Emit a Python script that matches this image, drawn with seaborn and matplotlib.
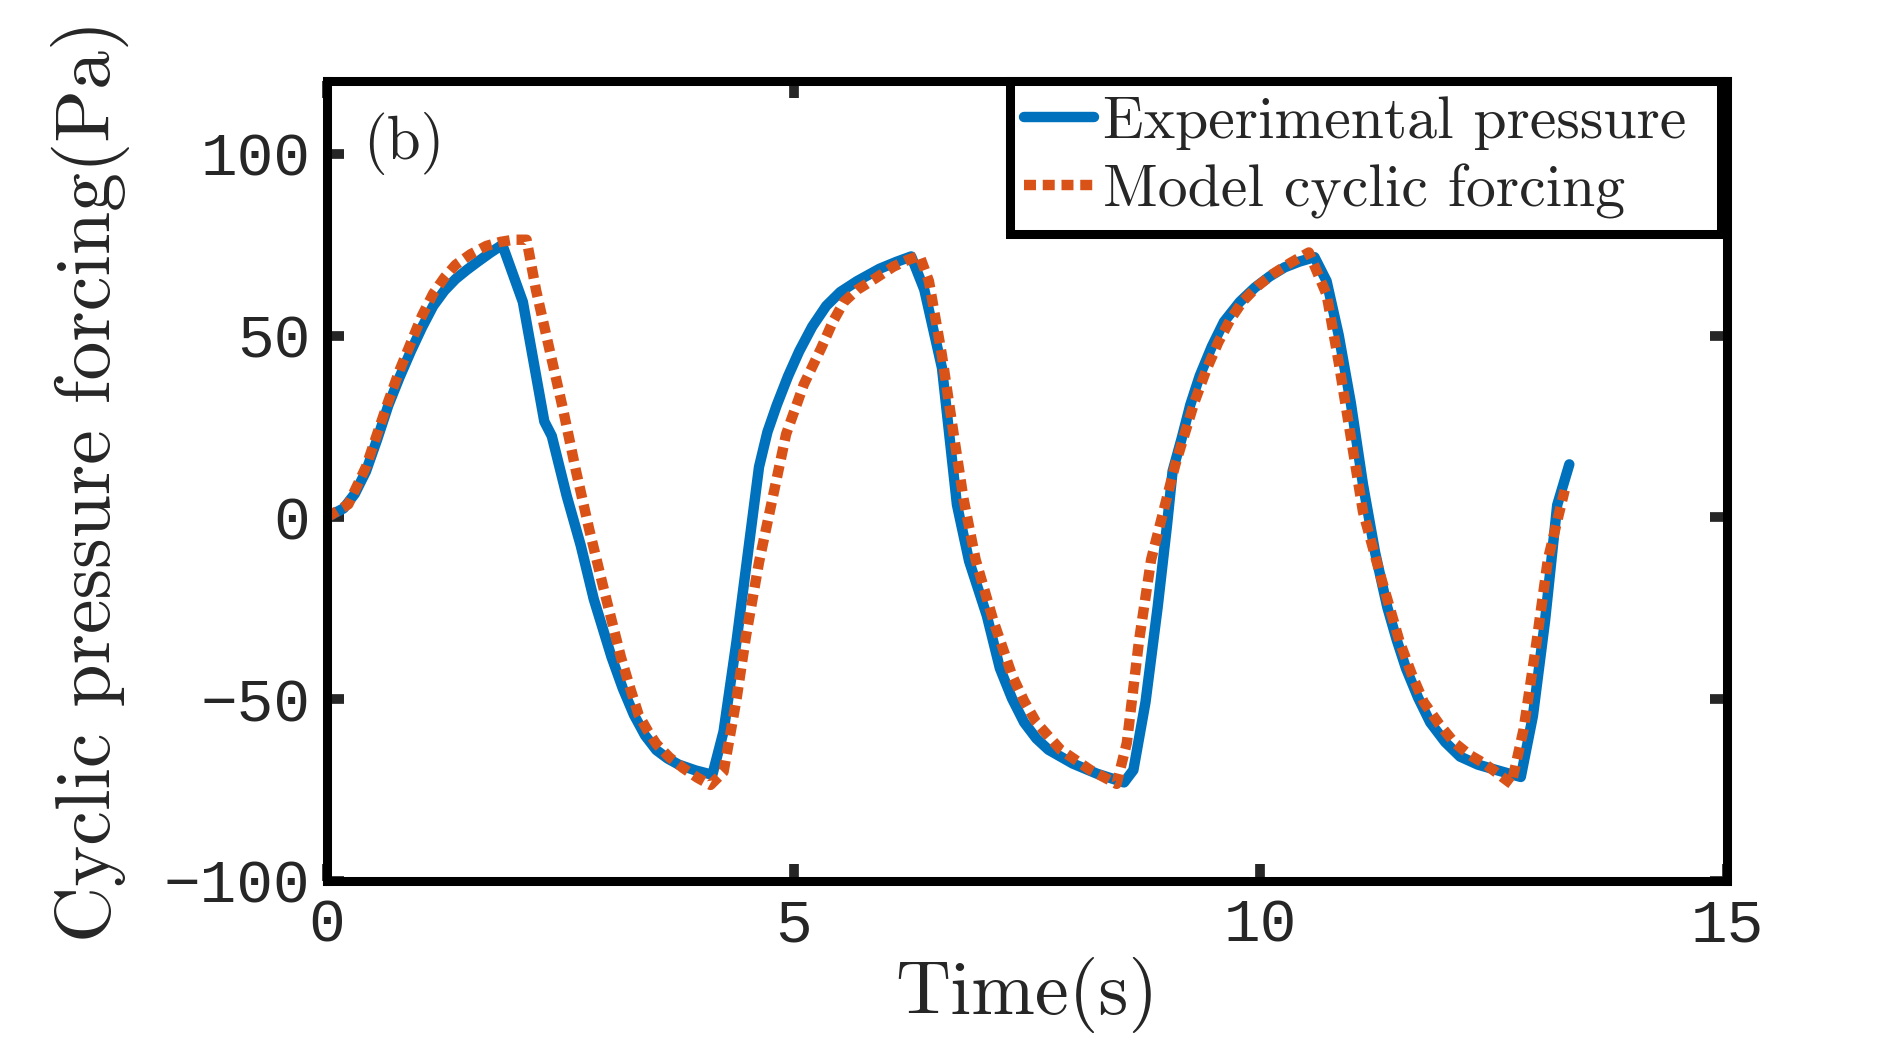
import pandas as pd
import seaborn as sns
import matplotlib.pyplot as plt

# ---------------------------------------
# Data
# ---------------------------------------
t_exp = [0, 0.18, 0.30, 0.42, 0.54, 0.66, 0.78, 0.90, 1.02, 1.14, 1.26, 1.38,
         1.50, 1.62, 1.75, 1.88, 2.10, 2.33, 2.41, 2.57, 2.72, 2.86, 3.05, 3.17,
         3.29, 3.41, 3.53, 3.65, 3.77, 3.95, 4.13, 4.25, 4.39, 4.51, 4.63, 4.72,
         4.82, 4.94, 5.06, 5.20, 5.35, 5.50, 5.68, 5.92, 6.10, 6.26, 6.40, 6.59,
         6.75, 6.88, 7.07, 7.21, 7.34, 7.47, 7.60, 7.73, 7.99, 8.25, 8.54, 8.64,
         8.77, 8.90, 9.00, 9.06, 9.16, 9.25, 9.35, 9.48, 9.61, 9.78, 9.94, 10.10,
         10.26, 10.42, 10.58, 10.71, 10.84, 10.97, 11.10, 11.23, 11.36, 11.46,
         11.56, 11.69, 11.82, 11.98, 12.14, 12.33, 12.53, 12.79, 12.92, 13.05,
         13.18, 13.31]
p_exp = [0, 2.5, 6.5, 12.7, 21.5, 30.9, 38.6, 45.7, 52.3, 58.2, 62.4, 65.6,
         68.1, 70.4, 72.8, 75.0, 59.3, 26.4, 22.4, 5.9, -7.7, -22.5, -38.4, -47.0,
         -54.3, -60.0, -64.0, -66.3, -68.0, -69.6, -70.8, -58.9, -33.9, -10, 13.9, 23.5,
         30.9, 38.8, 45.7, 52.5, 58.2, 62.0, 65, 68.4, 70.3, 71.8, 62.7, 41.1,
         3.5, -12, -27, -41.5, -49.8, -56.4, -60.8, -63.9, -67.7, -70.5, -72.9, -69.5,
         -50.8, -24.7, -2.2, 12.7, 22, 31.0, 38.9, 47.0, 53.8, 59.3, 63.2, 66.3,
         68.8, 70.4, 71.6, 65, 50.1, 31.4, 9, -9.7, -24.7, -33.6,
         -41.5, -49.6, -56.4, -61.8, -65.8, -68.0, -69.5, -71.4, -54.6, -28.4,
         3.4, 14.6]

t_mod = [0, 0.23, 0.42, 0.54, 0.66, 0.78, 0.90, 1.02, 1.14, 1.26, 1.38, 1.54,
         1.71, 1.86, 2.0, 2.14, 2.24, 2.38, 2.53, 2.67, 2.81, 2.96, 3.15, 3.25,
         3.34, 3.44, 3.53, 3.67, 3.82, 3.97, 4.11, 4.25, 4.39, 4.49, 4.63, 4.78,
         4.92, 5.11, 5.30, 5.42, 5.54, 5.68, 5.83, 6.07, 6.22, 6.35, 6.45, 6.59,
         6.72, 6.82, 6.95, 7.14, 7.34, 7.47, 7.6, 7.86, 8.18, 8.46, 8.57, 8.70,
         8.83, 8.96, 9.09, 9.29, 9.42, 9.55, 9.68, 9.81, 9.97, 10.13, 10.32,
         10.52, 10.71, 10.84, 10.97, 11.10, 11.30, 11.49, 11.62, 11.75, 11.92,
         12.08, 12.24, 12.40, 12.55, 12.69, 12.82, 12.95, 13.08, 13.26]
p_mod = [0, 3.6, 13.9, 23.0, 32, 40.5, 48, 55.5, 61.6, 66.0, 69.5, 72.4,
         74.7, 75.8, 76.4, 76.4, 62.7, 46.8, 29.8, 12.7, -3.2, -19, -38.4, -47.0,
         -54.3, -58.8, -62.3, -66.0, -69, -71.6, -73.6, -70, -49.8, -32.7, -12.3, 5.9,
         22.9, 36.6, 46.8, 53.8, 59.3, 62.6, 65, 69, 70.8, 72, 65, 44.5,
         22, 5.2, -11.6, -28.4, -43.4, -50.5, -56.4, -63.9, -69.5, -73.3, -62, -34,
         -11.6, 1.5, 14.6, 31.4, 40.5, 48.2, 54.5, 59.4, 63.6, 66.9, 70.0,
         72.9, 61.3, 42.6, 22, 1.5, -17.2, -34, -43.0, -50.8, -57.0,
         -62, -65.3, -67.7, -70.6, -73.3, -58.3, -35.9, -11.6, 7.5]

x_ticks = [0, 5, 10, 15]
x_tick_labels = ["0", "5", "10", "15"]
y_ticks = [-100, -50, 0, 50, 100]
y_tick_labels = ["\u2212100", "\u221250", "0", "50", "100"]

exp_df = pd.DataFrame({"time": t_exp, "pressure": p_exp})
mod_df = pd.DataFrame({"time": t_mod, "pressure": p_mod})

# ---------------------------------------
# Style
# ---------------------------------------
sns.set_style("white")
plt.rcParams["mathtext.fontset"] = "cm"
plt.rcParams["font.family"] = ["cmr10", "DejaVu Sans"]
plt.rcParams["axes.formatter.use_mathtext"] = True

fig, ax = plt.subplots(figsize=(19, 10.55), dpi=100)
fig.subplots_adjust(left=0.172, right=0.909, bottom=0.165, top=0.923)

sns.lineplot(data=exp_df, x="time", y="pressure", ax=ax, color="#0072BD",
             linewidth=7.5, label="Experimental pressure", estimator=None)
sns.lineplot(data=mod_df, x="time", y="pressure", ax=ax, color="#D95319",
             linewidth=7.5, linestyle=(0, (1.15, 0.65)), dash_capstyle="butt",
             label="Model cyclic forcing", estimator=None)

ax.set_xlim(0, 15)
ax.set_ylim(-100, 120)
ax.set_xticks(x_ticks)
ax.set_xticklabels(x_tick_labels)
ax.set_yticks(y_ticks)
ax.set_yticklabels(y_tick_labels)
tick_font = ["Liberation Mono", "DejaVu Sans"]
for lab in ax.get_xticklabels() + ax.get_yticklabels():
    lab.set_family(tick_font)
ax.tick_params(direction="in", length=12, width=7, bottom=True, left=True,
               top=True, right=True, labelsize=44, pad=12)

for sp in ax.spines.values():
    sp.set_visible(True)
    sp.set_linewidth(6.5)
    sp.set_color("black")

ax.set_xlabel("Time(s)", fontsize=55, labelpad=2)
ax.set_ylabel("Cyclic pressure forcing(Pa)", fontsize=56, labelpad=24)

ax.text(0.026, 0.9225, "(b)", transform=ax.transAxes, fontsize=44,
        va="center", ha="left")

# a trailing space gives the legend box the wider right margin of the original
handles, labels = ax.get_legend_handles_labels()
leg = ax.legend(handles, [lab + " " for lab in labels],
                loc="upper right", bbox_to_anchor=(0.996, 1.0),
                borderaxespad=0, fontsize=43, handlelength=1.17,
                handletextpad=0.15, labelspacing=0.23, borderpad=0.25,
                fancybox=False, framealpha=1, edgecolor="black")
leg.get_frame().set_linewidth(6.5)

plt.savefig("out.png", dpi=100)
